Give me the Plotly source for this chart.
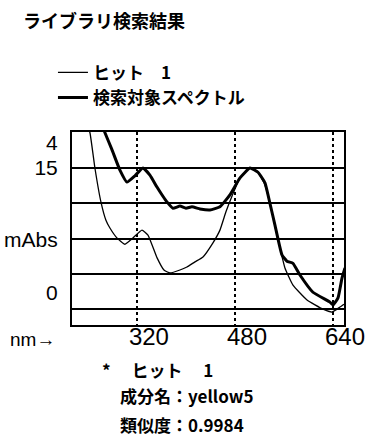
import plotly.graph_objects as go

# ---- data ----
hit_nm = [240.0, 243.3, 251.4, 261.2, 269.4, 275.9, 287.3, 300.4, 313.5, 328.2, 338.0,
          352.7, 364.1, 373.9, 390.2, 401.6, 414.7, 427.8, 444.1, 455.5, 465.3, 475.1,
          488.2, 504.5, 517.6, 529.0, 537.1, 548.6, 561.6, 574.7, 597.6, 623.7, 638.4,
          651.4, 658.0]
hit_mabs = [20.7, 20.0, 15.0, 10.2, 7.6, 6.5, 5.1, 4.2, 5.1, 6.2, 5.5,
            2.3, 0.55, 0.13, 0.55, 0.98, 1.7, 2.4, 4.4, 6.2, 8.8, 11.0,
            13.6, 15.0, 14.4, 12.6, 10.0, 5.5, 0.84, -1.6, -3.7, -5.0, -5.4,
            -4.7, -4.3]

target_nm = [259.6, 267.8, 279.2, 292.2, 303.7, 316.7, 329.8, 341.2, 352.7, 362.4, 369.0,
             378.8, 390.2, 400.0, 409.8, 422.9, 439.2, 455.5, 471.8, 488.2, 504.5, 517.6,
             529.0, 537.1, 545.3, 556.7, 564.9, 574.7, 586.1, 607.3, 635.1, 640.0, 648.2,
             654.7, 659.6]
target_mabs = [21.8, 20.0, 17.6, 14.7, 13.0, 13.9, 15.0, 14.0, 12.3, 11.0, 10.2,
               9.3, 9.6, 9.3, 9.5, 9.2, 9.05, 9.5, 11.2, 13.6, 15.0, 14.4,
               12.9, 10.0, 6.9, 2.7, 1.8, 1.5, -0.16, -2.6, -4.0, -4.4, -3.4,
               -0.6, 0.84]

x_ticks = [320, 480, 640]
x_tick_labels = ["320", "480", "640"]
y_label_pos = [18.6, 15.0, 4.8, -2.6]
y_label_text = ["4", "15", "mAbs", "0"]
y_grid = [15, 10, 5, 0, -5]

title_text = "ライブラリ検索結果"
hit_name = "ヒット　1"
target_name = "検索対象スペクトル"
info_lines = ["*　 ヒット　 1", "成分名：yellow5", "類似度：0.9984"]

FONT = "Noto Sans CJK JP, Liberation Sans, Arial, sans-serif"
NUM_FONT = "Liberation Sans Narrow, Liberation Sans, Arial, sans-serif"

fig = go.Figure()
fig.add_trace(go.Scatter(x=hit_nm, y=hit_mabs, mode="lines", name=hit_name,
                         line=dict(color="black", width=1.3, shape="spline", smoothing=0.4)))
fig.add_trace(go.Scatter(x=target_nm, y=target_mabs, mode="lines", name=target_name,
                         line=dict(color="black", width=3, shape="spline", smoothing=0.4)))

fig.update_layout(
    width=371, height=439,
    margin=dict(l=72, r=27, t=132, b=114, autoexpand=False),
    paper_bgcolor="white", plot_bgcolor="white",
    font=dict(family=FONT, color="black", size=16),
    showlegend=True,
    legend=dict(x=-0.07, xanchor="left", y=1.40, yanchor="top",
                font=dict(family=FONT, size=17, color="black", weight="bold"),
                bgcolor="rgba(0,0,0,0)", tracegroupgap=0, itemclick=False),
    xaxis=dict(range=[214, 658], tickvals=x_ticks, ticktext=x_tick_labels,
               showgrid=True, gridcolor="black", gridwidth=1.5, griddash="dot",
               showline=True, linecolor="black", linewidth=2, mirror=True,
               ticks="", ticklabelshift=12, ticklabelstandoff=-11,
               tickfont=dict(family=NUM_FONT, size=24, color="black"),
               zeroline=False, fixedrange=True, automargin=False),
    yaxis=dict(range=[-7.24, 20.1], tickvals=y_label_pos, ticktext=y_label_text,
               showgrid=False,
               minor=dict(tickvals=y_grid, showgrid=True, gridcolor="black",
                          gridwidth=1.5, ticks=""),
               showline=True, linecolor="black", linewidth=2, mirror=True,
               ticks="", ticklabelstandoff=8,
               tickfont=dict(family=NUM_FONT, size=21, color="black"),
               zeroline=False, fixedrange=True, automargin=False),
)

def px_to_paper_x(px):
    return (px - 72) / 272.0

def py_to_paper_y(py):
    return (325 - py) / 193.0

fig.add_annotation(text=title_text, xref="paper", yref="paper",
                   x=px_to_paper_x(21), y=py_to_paper_y(20), xanchor="left", yanchor="middle",
                   showarrow=False, font=dict(family=FONT, size=18, color="black", weight="bold"))
fig.add_annotation(text="nm→", xref="paper", yref="paper",
                   x=px_to_paper_x(8), y=py_to_paper_y(339), xanchor="left", yanchor="middle",
                   showarrow=False, font=dict(family=NUM_FONT, size=19, color="black"))
for txt, py, px in zip(info_lines, [369, 395, 424], [100, 118, 118]):
    fig.add_annotation(text=txt, xref="paper", yref="paper",
                       x=px_to_paper_x(px), y=py_to_paper_y(py), xanchor="left", yanchor="middle",
                       showarrow=False, font=dict(family=FONT, size=17, color="black", weight="bold"))

fig.write_html("out.html")
